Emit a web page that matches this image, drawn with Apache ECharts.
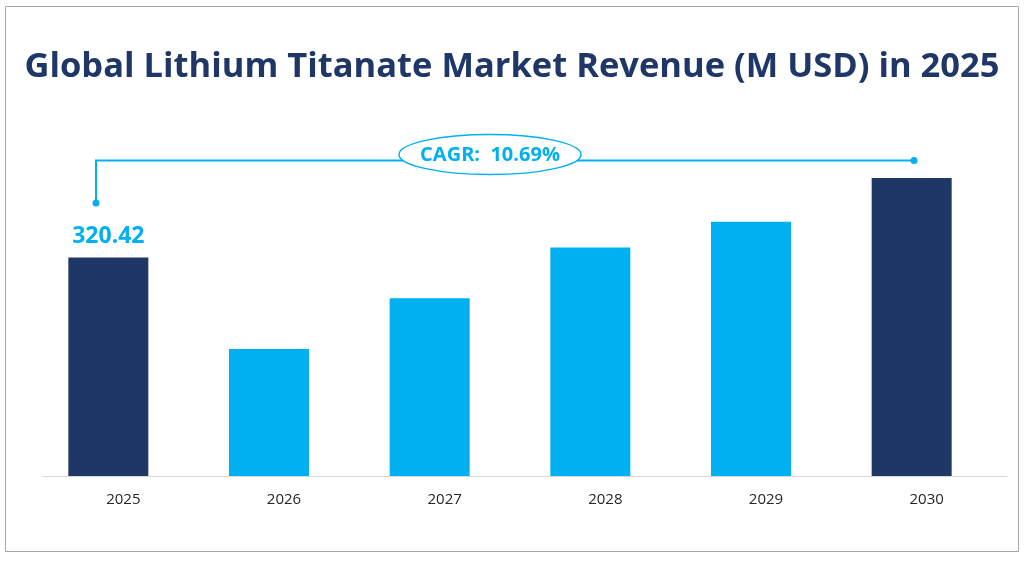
<!DOCTYPE html>
<html>
<head>
<meta charset="utf-8">
<script src="https://cdn.jsdelivr.net/npm/echarts@6/dist/echarts.min.js"></script>
<style>
html,body{margin:0;padding:0;background:#fff;}
#chart{width:1024px;height:563px;}
</style>
</head>
<body>
<div id="chart"></div>
<script>
var titleText = 'Global Lithium Titanate Market Revenue (M USD) in 2025';
var categories = ['2025', '2026', '2027', '2028', '2029', '2030'];
var revenue = [320.42, 186.4, 260.8, 335.1, 372.8, 437.0];
var barColors = ['#1f3767', '#00b0f0', '#00b0f0', '#00b0f0', '#00b0f0', '#1f3767'];
var cagrText = 'CAGR:  10.69%';
var firstLabel = '320.42';

var chart = echarts.init(document.getElementById('chart'));
var barData = revenue.map(function (v, i) {
  var d = { value: v, itemStyle: { color: barColors[i] } };
  if (i === 0) {
    d.label = {
      show: true, position: 'top', distance: 10,
      formatter: firstLabel,
      color: '#00b0f0', fontSize: 23, fontWeight: 'bold',
      fontFamily: 'Open Sans'
    };
  }
  return d;
});
var blank = categories.map(function () { return null; });

chart.setOption({
  backgroundColor: '#ffffff',
  animation: false,
  title: {
    text: titleText,
    left: 'center',
    top: 45,
    textStyle: {
      color: '#1f3767', fontSize: 34.5, fontWeight: 'bold', fontFamily: 'Open Sans'
    }
  },
  grid: { left: 43, right: 17, top: 135, bottom: 87 },
  xAxis: {
    type: 'category',
    data: categories,
    axisLine: { lineStyle: { color: '#d9d9d9', width: 1 } },
    axisTick: { show: false },
    axisLabel: { color: '#262626', fontSize: 15, margin: 16, fontFamily: 'Open Sans' }
  },
  yAxis: {
    type: 'value', min: 0, max: 500,
    show: false,
    splitLine: { show: false }
  },
  series: [
    { type: 'bar', data: barData, barWidth: 80, barGap: '-62.5%' },
    { type: 'bar', data: blank, barWidth: 80, silent: true, itemStyle: { color: 'transparent' } }
  ],
  graphic: [
    {
      type: 'rect', shape: { x: 5.5, y: 6.5, width: 1013, height: 545 },
      style: { fill: 'none', stroke: '#a6a6a6', lineWidth: 1 }, z: 0
    },
    {
      type: 'polyline', shape: { points: [[96, 203], [96, 160.5], [914, 160.5]] },
      style: { stroke: '#00b0f0', lineWidth: 2, fill: 'none' }, z: 10
    },
    { type: 'circle', shape: { cx: 96, cy: 203, r: 3.5 }, style: { fill: '#00b0f0' }, z: 11 },
    { type: 'circle', shape: { cx: 914, cy: 160.5, r: 3.5 }, style: { fill: '#00b0f0' }, z: 11 },
    {
      type: 'ellipse', shape: { cx: 490, cy: 154.5, rx: 91, ry: 20 },
      style: { fill: '#ffffff', stroke: '#00b0f0', lineWidth: 1.5 }, z: 12
    },
    {
      type: 'text', x: 490, y: 155, z: 13,
      style: {
        text: cagrText, fill: '#00b0f0', font: 'bold 20px "Open Sans"',
        textAlign: 'center', textVerticalAlign: 'middle'
      }
    }
  ]
});
</script>
</body>
</html>
